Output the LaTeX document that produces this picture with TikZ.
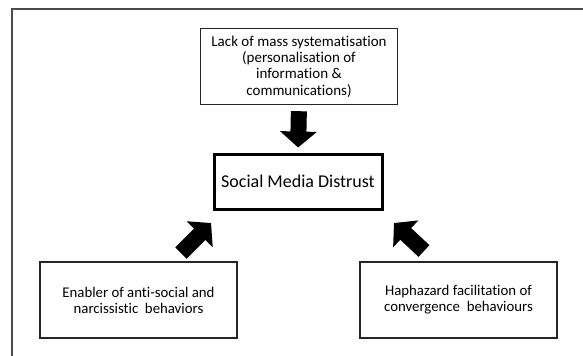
\documentclass[tikz,border=0pt]{standalone}
\usepackage{fontspec}
\setmainfont[Ligatures={NoCommon}]{Carlito}
\usetikzlibrary{arrows.meta}
\begin{document}
\begin{tikzpicture}[x=1bp,y=-1bp,
  box/.style={draw=black!85, line width=1.4bp, minimum width=197bp, minimum height=76bp, align=center, inner sep=0pt},
  blockarrow/.style={line width=16bp, black, -{Triangle[length=16bp,width=36bp]}}]
\useasboundingbox (0,0) rectangle (583,355);
\draw[black!70, line width=1.5bp] (12,360) -- (12,9) -- (590,9);
\node[box, font=\fontsize{15bp}{16.4bp}\selectfont] (top) at (299,66.5) {Lack of mass systematisation\\(personalisation of\\information \&\\communications)};
\node[draw=black, line width=3bp, minimum width=168bp, minimum height=55bp, inner sep=0pt, font=\fontsize{18bp}{20bp}\selectfont] (center) at (298,181.5) {Social Media Distrust};
\node[box, font=\fontsize{14.8bp}{16bp}\selectfont] (left) at (138.5,300) {Enabler of anti-social and\\narcissistic\ \ behaviors};
\node[box, font=\fontsize{14.8bp}{16bp}\selectfont] (right) at (458.5,300) {Haphazard facilitation of\\convergence\ \ behaviours};
\coordinate (lt) at (181,253);
\coordinate (lh) at (211,223);
\coordinate (rt) at (424,251);
\coordinate (rh) at (394,223);
\draw[blockarrow, shorten <=6bp, shorten >=5bp] (top.south) -- (center.north);
\draw[blockarrow] (lt) -- (lh);
\draw[blockarrow] (rt) -- (rh);
\end{tikzpicture}
\end{document}
